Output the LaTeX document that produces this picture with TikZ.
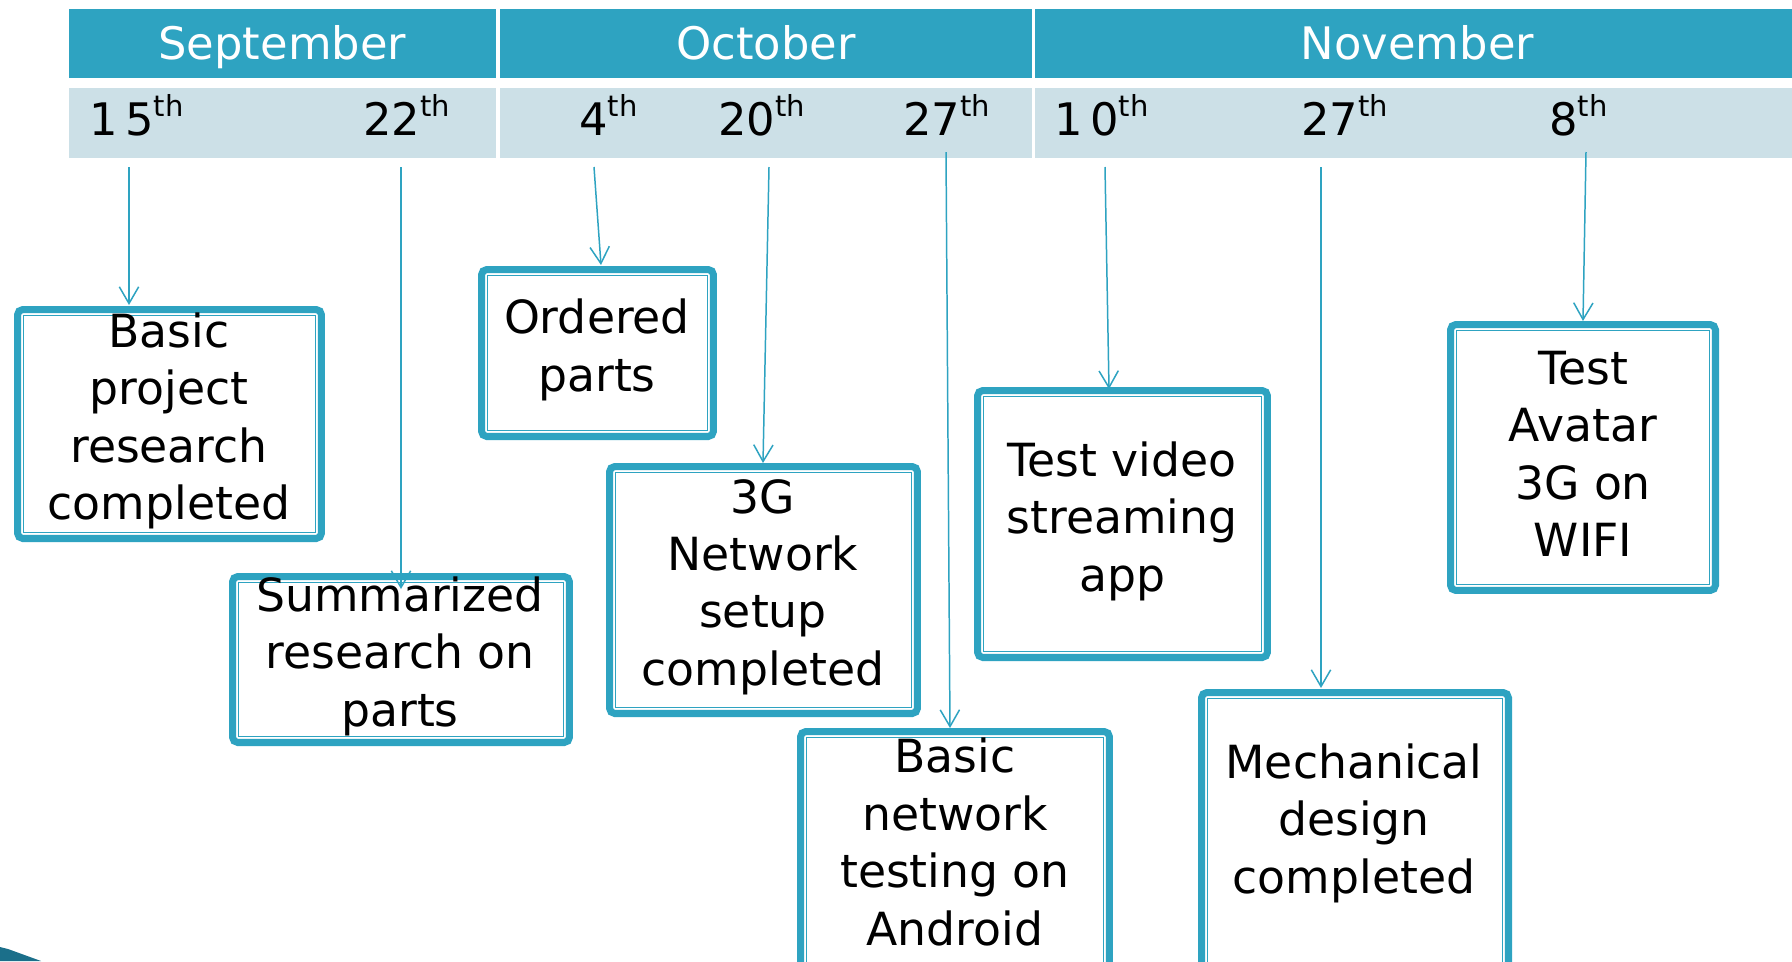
\documentclass[tikz,border=0pt]{standalone}
\usepackage{fontspec}
\setmainfont{DejaVu Sans}
\usetikzlibrary{arrows.meta}
\definecolor{tealA}{HTML}{2EA3C1}
\definecolor{bandB}{HTML}{CCE0E7}
\definecolor{darkT}{HTML}{1B6F8A}
\newcommand\boxfont{\fontsize{26}{32.7}\selectfont}
\newcommand\datefont{\fontsize{25.5}{30}\selectfont}
\newcommand\hdrfont{\fontsize{25.5}{30}\selectfont}
\newcommand\dth[1]{#1\raisebox{0.42em}{\fontsize{16.5}{16.5}\selectfont th}}
\begin{document}
\begin{tikzpicture}[x=0.02cm,y=-0.02cm,
  hcell/.style={fill=tealA, draw=none, inner sep=0pt, text=white, font=\hdrfont, text height=21pt, text depth=3pt},
  dcell/.style={fill=bandB, draw=none, inner sep=0pt},
  dtxt/.style={anchor=base west, inner sep=0pt, font=\datefont},
  boxst/.style={draw=tealA, line width=4pt, fill=white, rounded corners=3pt, inner sep=0pt},
  frameline/.style={draw=tealA, line width=0.95pt},
  txt/.style={align=center, font=\boxfont, inner sep=0pt},
  arr/.style={draw=tealA, line width=0.85pt, -{Straight Barb[length=9.5pt,width=11pt,line width=0.85pt]}}]
\useasboundingbox (0,0) rectangle (1792,961);
\clip (0,0) rectangle (1792,961);
\fill[white] (0,0) rectangle (1792,961);
% header
\node[hcell, minimum width=8.548cm, minimum height=1.38cm] (sep) at (282.3,43.5) {September};
\node[hcell, minimum width=10.64cm, minimum height=1.38cm] (oct) at (766,43.5) {October};
\node[hcell, minimum width=15.3cm, minimum height=1.38cm] (nov) at (1417.5,43.5) {November};
\node[dcell, minimum width=8.548cm, minimum height=1.4cm] (dsep) at (282.3,123) {};
\node[dcell, minimum width=10.64cm, minimum height=1.4cm] (doct) at (766,123) {};
\node[dcell, minimum width=15.3cm, minimum height=1.4cm] (dnov) at (1417.5,123) {};
% dates
\node[dtxt] (d1) at (89,135) {\dth{1\,5}};
\node[dtxt] (d2) at (363,135) {\dth{22}};
\node[dtxt] (d3) at (579,135) {\dth{4}};
\node[dtxt] (d4) at (718,135) {\dth{20}};
\node[dtxt] (d5) at (903,135) {\dth{27}};
\node[dtxt] (d6) at (1054,135) {\dth{1\,0}};
\node[dtxt] (d7) at (1301,135) {\dth{27}};
\node[dtxt] (d8) at (1549,135) {\dth{8}};
% boxes
\node[boxst, minimum width=6.08cm, minimum height=4.58cm] (A) at (169.5,424) {};
\node[boxst, minimum width=4.64cm, minimum height=3.34cm] (B) at (597.5,353) {};
\node[boxst, minimum width=6.74cm, minimum height=3.32cm] (C) at (401,659.5) {};
\node[boxst, minimum width=6.16cm, minimum height=4.94cm] (D) at (763.5,590) {};
\node[boxst, minimum width=6.18cm, minimum height=4.8cm] (E) at (955,851.5) {};
\node[boxst, minimum width=5.8cm, minimum height=5.34cm] (F) at (1122.5,524) {};
\node[boxst, minimum width=6.14cm, minimum height=5.58cm] (G) at (1355,832) {};
\node[boxst, minimum width=5.3cm, minimum height=5.32cm] (H) at (1583,457.5) {};
\foreach \n in {A,B,C,D,E,F,G,H}
  \draw[frameline] ([xshift=0.19cm,yshift=-0.19cm]\n.north west) rectangle ([xshift=-0.19cm,yshift=0.19cm]\n.south east);
% texts
\node[txt] (tA) at (169,421) {Basic\\project\\research\\completed};
\node[txt] (tB) at (597,350) {Ordered\\parts};
\node[txt] (tC) at (400,656) {Summarized\\research on\\parts};
\node[txt] (tD) at (763,587) {3G\\Network\\setup\\completed};
\node[txt] (tE) at (955,842) {Basic\\network\\testing on\\Android};
\node[txt] (tF) at (1122,521) {Test video\\streaming\\app};
\node[txt] (tG) at (1354,823) {Mechanical\\design\\completed};
\node[txt] (tH) at (1583,454) {Test\\Avatar\\3G on\\WIFI};
% arrows
\coordinate (s1) at (129,167); \coordinate (e1) at (129,305);
\coordinate (s2) at (401,167); \coordinate (e2) at (401,589);
\coordinate (s3) at (594,167); \coordinate (e3) at (601,265);
\coordinate (s4) at (769,167); \coordinate (e4) at (763,463);
\coordinate (s5) at (946,152); \coordinate (e5) at (950,728);
\coordinate (s6) at (1105,167); \coordinate (e6) at (1109,389);
\coordinate (s7) at (1321,167); \coordinate (e7) at (1321,688);
\coordinate (s8) at (1586,152); \coordinate (e8) at (1583,321);
\foreach \i in {1,...,8} \draw[arr] (s\i) -- (e\i);
% corner wedge
\fill[darkT] (0,947) -- (8,949) -- (41,961) -- (0,961) -- cycle;
\end{tikzpicture}
\end{document}
